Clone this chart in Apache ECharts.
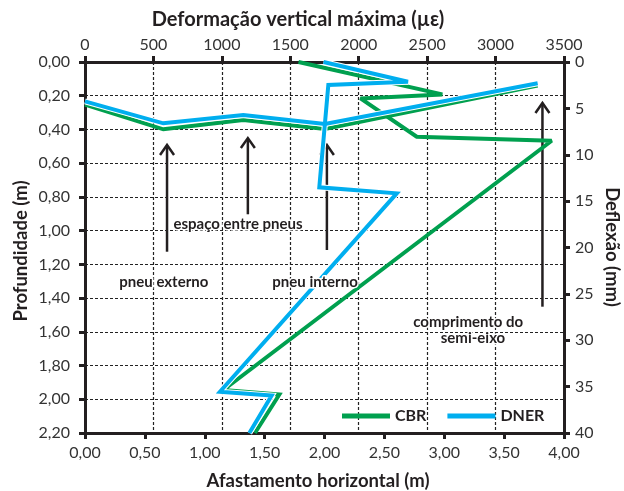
<!DOCTYPE html>
<html>
<head>
<meta charset="utf-8">
<script src="https://cdn.jsdelivr.net/npm/echarts@6/dist/echarts.min.js"></script>
<style>html,body{margin:0;padding:0;background:#fff}#c{width:624px;height:491px}</style>
</head>
<body>
<div id="c"></div>
<script>
// ---- data ----
// strain (top axis, µε) vs depth (left axis, m)
const cbrStrain = [1560, 2611, 2013, 2424, 3410, 1011, 1420, 1242];
const cbrStrainDepth = [0.00, 0.192, 0.216, 0.443, 0.467, 1.945, 1.972, 2.20];
const dnerStrain = [1743, 2360, 1778, 1712, 2278, 986, 1364, 1201];
const dnerStrainDepth = [0.00, 0.117, 0.136, 0.743, 0.779, 1.955, 1.978, 2.20];
// deflection (right axis, mm) vs horizontal distance (bottom axis, m)
const deflDist = [0.00, 0.654, 1.322, 2.004, 3.78];
const cbrDefl = [4.6, 7.26, 6.25, 7.22, 2.55];
const dnerDefl = [4.25, 6.61, 5.71, 6.68, 2.3];
// annotation arrows: horizontal position (m), tip depth, tail depth (m)
const arrowX = [0.685, 1.36, 2.02, 3.82];
const arrowTip = [0.492, 0.451, 0.492, 0.243];
const arrowTail = [1.125, 0.903, 1.115, 1.451];
// annotation texts
const noteText = ['espaço entre pneus', 'pneu externo', 'pneu interno', 'comprimento do', 'semi-eixo'];
const noteX = [1.278, 0.658, 1.921, 3.20, 3.24];
const noteY = [0.962, 1.306, 1.305, 1.540, 1.638];
// axis ticks
const bottomTicks = {min: 0, max: 4, interval: 0.5};
const topTicks = {min: 0, max: 3500, interval: 500};
const leftTicks = {min: 0, max: 2.2, interval: 0.2};
const rightTicks = {min: 0, max: 40, interval: 5};

const GREEN = '#00a04f', BLUE = '#00aeef', INK = '#231f20', FONT = 'Lato, "Open Sans", sans-serif';
const zip = (a, b) => a.map((v, i) => [v, b[i]]);
const fmt2 = v => (Math.round(v * 100) / 100).toFixed(2).replace('.', ',');

const axisLine = {show: true, onZero: false, lineStyle: {color: INK, width: 3}};
const axisTick = {show: true, length: 6, lineStyle: {color: INK, width: 3}};
const label = {color: '#333', fontSize: 16, fontFamily: FONT};
const grid = {show: true, lineStyle: {color: '#222', width: 1.2, type: [3, 2]}};
const lineJoin = {join: 'miter', miterLimit: 2.5};

const chart = echarts.init(document.getElementById('c'), null, {renderer: 'canvas'});
chart.setOption({
  animation: false,
  backgroundColor: '#fff',
  grid: {left: 85, right: 60, top: 62, bottom: 58},
  legend: {
    data: ['CBR', 'DNER'], icon: 'rect', itemWidth: 48, itemHeight: 5, itemGap: 21,
    left: 342, top: 408, padding: 0,
    textStyle: {color: INK, fontSize: 16, fontWeight: 'bold', fontFamily: FONT}
  },
  xAxis: [
    {type: 'value', position: 'bottom', ...bottomTicks, axisLine, axisTick,
     axisLabel: {...label, margin: 12, formatter: fmt2}, splitLine: {show: false}},
    {type: 'value', position: 'top', ...topTicks, axisLine, axisTick,
     axisLabel: {...label, margin: 9, formatter: v => String(Math.round(v))}, splitLine: grid}
  ],
  yAxis: [
    {type: 'value', position: 'left', inverse: true, ...leftTicks, axisLine, axisTick,
     axisLabel: {...label, margin: 15, formatter: fmt2}, splitLine: grid},
    {type: 'value', position: 'right', inverse: true, ...rightTicks, axisLine, axisTick,
     axisLabel: {...label, margin: 11, formatter: v => String(Math.round(v))}, splitLine: {show: false}}
  ],
  graphic: [
    {type: 'text', x: 298, y: 20, style: {text: 'Deformação vertical máxima (µε)', fill: INK, font: 'bold 20px ' + FONT, align: 'center', verticalAlign: 'middle'}},
    {type: 'text', x: 318, y: 481, style: {text: 'Afastamento horizontal (m)', fill: INK, font: 'bold 18.5px ' + FONT, align: 'center', verticalAlign: 'middle'}},
    {type: 'text', x: 21.5, y: 251, rotation: Math.PI / 2, style: {text: 'Profundidade (m)', fill: INK, font: 'bold 18.5px ' + FONT, align: 'center', verticalAlign: 'middle'}},
    {type: 'text', x: 611.5, y: 247, rotation: -Math.PI / 2, style: {text: 'Deflexão (mm)', fill: INK, font: 'bold 18.5px ' + FONT, align: 'center', verticalAlign: 'middle'}}
  ],
  series: [
    {name: '_arrows', type: 'custom', xAxisIndex: 0, yAxisIndex: 0, silent: true, z: 1,
     data: arrowX.map((x, i) => [x, arrowTip[i], arrowTail[i]]),
     renderItem: (params, api) => {
       const tip = api.coord([api.value(0), api.value(1)]);
       const tail = api.coord([api.value(0), api.value(2)]);
       const st = {stroke: INK, lineWidth: 2.5, fill: null};
       return {type: 'group', children: [
         {type: 'line', shape: {x1: tip[0], y1: tip[1] + 1, x2: tail[0], y2: tail[1]}, style: st},
         {type: 'polyline', shape: {points: [[tip[0] - 7, tip[1] + 10], [tip[0], tip[1]], [tip[0] + 7, tip[1] + 10]]}, style: st}
       ]};
     }},
    {name: 'CBR', type: 'line', xAxisIndex: 1, yAxisIndex: 0, data: zip(cbrStrain, cbrStrainDepth),
     showSymbol: false, symbol: 'none', lineStyle: {color: GREEN, width: 4, ...lineJoin}, itemStyle: {color: GREEN}},
    {name: 'CBR', type: 'line', xAxisIndex: 0, yAxisIndex: 1, data: zip(deflDist, cbrDefl),
     showSymbol: false, symbol: 'none', lineStyle: {color: GREEN, width: 4, ...lineJoin}, itemStyle: {color: GREEN}},
    {name: '_u1', type: 'line', xAxisIndex: 1, yAxisIndex: 0, data: zip(dnerStrain, dnerStrainDepth), silent: true,
     symbol: 'none', lineStyle: {color: '#fff', width: 6, ...lineJoin}},
    {name: '_u2', type: 'line', xAxisIndex: 0, yAxisIndex: 1, data: zip(deflDist, dnerDefl), silent: true,
     symbol: 'none', lineStyle: {color: '#fff', width: 6, ...lineJoin}},
    {name: 'DNER', type: 'line', xAxisIndex: 1, yAxisIndex: 0, data: zip(dnerStrain, dnerStrainDepth),
     showSymbol: false, symbol: 'none', lineStyle: {color: BLUE, width: 4, ...lineJoin}, itemStyle: {color: BLUE}},
    {name: 'DNER', type: 'line', xAxisIndex: 0, yAxisIndex: 1, data: zip(deflDist, dnerDefl),
     showSymbol: false, symbol: 'none', lineStyle: {color: BLUE, width: 4, ...lineJoin}, itemStyle: {color: BLUE}},
    {name: '_notes', type: 'custom', xAxisIndex: 0, yAxisIndex: 0, silent: true, z: 11,
     data: noteX.map((x, i) => [x, noteY[i]]),
     renderItem: (params, api) => {
       const p = api.coord([api.value(0), api.value(1)]);
       return {type: 'text', x: p[0], y: p[1], z2: 100, style: {text: noteText[params.dataIndex], fill: INK,
         stroke: '#fff', lineWidth: 3, font: 'bold 15px ' + FONT, align: 'center', verticalAlign: 'middle'}};
     }}
  ]
});
</script>
</body>
</html>
